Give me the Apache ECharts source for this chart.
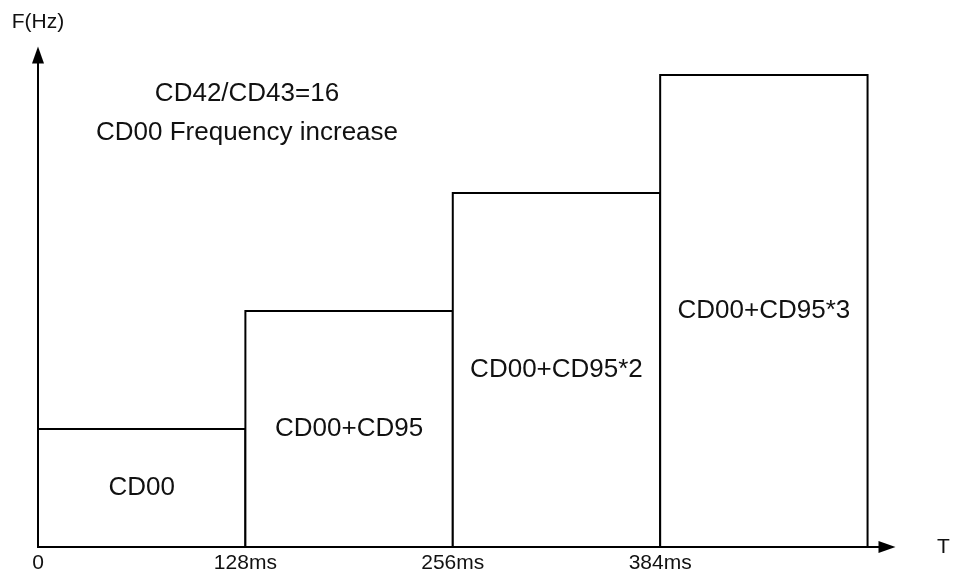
<!DOCTYPE html>
<html>
<head>
<meta charset="utf-8">
<title>CD00 frequency steps</title>
<script src="https://cdn.jsdelivr.net/npm/echarts@6/dist/echarts.min.js"></script>
<style>
    html, body { margin: 0; padding: 0; background: #fff; }
    #chart_1 { width: 954px; height: 577px; }
</style>
</head>
<body>
<div id="chart_1"></div>
<script>
// 数据
var stepStart = [0, 128, 256, 384];
var stepEnd = [128, 256, 384, 512];
var stepLevel = [1, 2, 3, 4];
var stepNames = ['CD00', 'CD00+CD95', 'CD00+CD95*2', 'CD00+CD95*3'];
var tickLabels = ['0', '128ms', '256ms', '384ms'];
var noteLines = ['CD42/CD43=16', 'CD00 Frequency increase'];

var fontName = '"Liberation Sans", Arial, sans-serif';
var chart_1 = echarts.init(document.getElementById('chart_1'));

var seriesData = [];
for (var i = 0; i < stepStart.length; i++) {
    seriesData.push([stepStart[i], stepEnd[i], stepLevel[i], stepNames[i]]);
}

function renderStep(params, api) {
    var p1 = api.coord([api.value(0), api.value(2)]);
    var p2 = api.coord([api.value(1), 0]);
    return {
        type: 'rect',
        shape: { x: p1[0], y: p1[1], width: p2[0] - p1[0], height: p2[1] - p1[1] },
        style: { fill: '#fff', stroke: '#000', lineWidth: 2 },
        textContent: {
            style: {
                text: stepNames[params.dataIndex],
                fontSize: 26,
                fontFamily: fontName,
                fill: '#111'
            }
        },
        textConfig: { position: 'inside' }
    };
}

var option = {
    animation: false,
    grid: { left: 38, right: 67, top: 55, bottom: 30 },
    xAxis: {
        type: 'value',
        min: 0,
        max: 524,
        interval: 128,
        name: 'T',
        nameLocation: 'end',
        nameGap: 50,
        nameTextStyle: { fontSize: 21, color: '#111', fontFamily: fontName, padding: [0, 0, 8, 0] },
        axisLine: {
            show: true,
            symbol: ['none', 'triangle'],
            symbolSize: [12, 17],
            lineStyle: { color: '#000', width: 2 }
        },
        axisTick: { show: false },
        splitLine: { show: false },
        axisLabel: {
            fontSize: 21,
            color: '#111',
            fontFamily: fontName,
            margin: 6,
            formatter: function (v) {
                var k = stepStart.indexOf(v);
                return k >= 0 ? tickLabels[k] : '';
            }
        }
    },
    yAxis: {
        type: 'value',
        min: 0,
        max: 4.17,
        name: 'F(Hz)',
        nameLocation: 'end',
        nameGap: 22,
        nameTextStyle: { fontSize: 21, color: '#111', fontFamily: fontName },
        axisLine: {
            show: true,
            symbol: ['none', 'triangle'],
            symbolSize: [12, 17],
            lineStyle: { color: '#000', width: 2 }
        },
        axisTick: { show: false },
        axisLabel: { show: false },
        splitLine: { show: false }
    },
    graphic: [
        {
            type: 'text',
            x: 247,
            y: 94,
            style: {
                text: noteLines[0],
                fontSize: 26,
                fontFamily: fontName,
                fill: '#111',
                textAlign: 'center',
                textVerticalAlign: 'middle'
            }
        },
        {
            type: 'text',
            x: 247,
            y: 133,
            style: {
                text: noteLines[1],
                fontSize: 26,
                fontFamily: fontName,
                fill: '#111',
                textAlign: 'center',
                textVerticalAlign: 'middle'
            }
        }
    ],
    series: [{
        type: 'custom',
        renderItem: renderStep,
        encode: { x: [0, 1], y: 2 },
        data: seriesData
    }]
};
chart_1.setOption(option);
</script>
</body>
</html>
